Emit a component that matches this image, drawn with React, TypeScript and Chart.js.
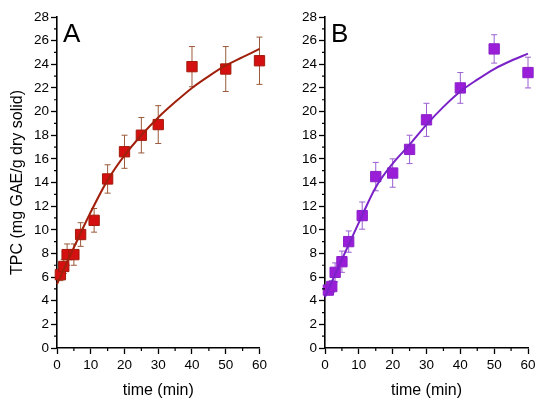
import { useEffect, useRef } from 'react'
import { Chart, registerables } from 'chart.js'

Chart.register(...registerables)

// sampling times (min)
const times = [1, 2, 3, 5, 7, 11, 15, 20, 25, 30, 40, 50, 60]

// panel A: measured TPC and SD
const tpcA = [6.2, 6.9, 7.9, 7.9, 9.6, 10.8, 14.3, 16.6, 18.0, 18.9, 23.8, 23.6, 24.3]
const errA = [0.5, 0.6, 0.9, 0.9, 1.0, 1.0, 1.2, 1.4, 1.5, 1.6, 1.7, 1.9, 2.0]

// panel B: measured TPC and SD
const tpcB = [4.9, 5.2, 6.4, 7.3, 9.0, 11.2, 14.5, 14.8, 16.8, 19.3, 22.0, 25.3, 23.3]
const errB = [0.4, 0.5, 0.8, 0.9, 0.9, 1.15, 1.2, 1.2, 1.2, 1.4, 1.3, 1.2, 1.3]

// fitted curves
const fitTimes = [0, 5, 10, 15, 20, 25, 30, 35, 40, 45, 50, 55, 60]
const fitA = [5.4, 8.5, 11.5, 14.2, 16.3, 18.0, 19.5, 20.8, 22.0, 23.0, 23.9, 24.6, 25.3]
const fitB = [4.3, 7.5, 10.6, 13.6, 15.6, 17.2, 18.9, 20.4, 21.7, 22.7, 23.6, 24.3, 24.9]

const xTicks = [0, 10, 20, 30, 40, 50, 60]
const xMinor = [5, 15, 25, 35, 45, 55]
const yTicks = [0, 2, 4, 6, 8, 10, 12, 14, 16, 18, 20, 22, 24, 26, 28]
const yMinor = [1, 3, 5, 7, 9, 11, 13, 15, 17, 19, 21, 23, 25, 27]

const FONT = "'Liberation Sans', Arial, sans-serif"

type PanelProps = {
  left: number
  width: number
  label: string
  values: number[]
  errors: number[]
  fit: number[]
  marker: string
  markerBorder: string
  lineColor: string
  barColor: string
  yTitle?: string
  yWidth: number
  padRight: number
}

function Panel(p: PanelProps) {
  const canvasRef = useRef<HTMLCanvasElement | null>(null)

  useEffect(() => {
    if (!canvasRef.current) return
    const ctx = canvasRef.current.getContext('2d')!

    const extras = {
      id: 'extras',
      beforeDatasetsDraw(chart: Chart) {
        const c = chart.ctx
        const xs = chart.scales.x
        const ys = chart.scales.y
        c.save()
        c.strokeStyle = p.barColor
        c.lineWidth = 1
        times.forEach((t, i) => {
          const px = xs.getPixelForValue(t)
          const top = ys.getPixelForValue(p.values[i] + p.errors[i])
          const bot = ys.getPixelForValue(p.values[i] - p.errors[i])
          c.beginPath()
          c.moveTo(px, top)
          c.lineTo(px, bot)
          c.moveTo(px - 3, top)
          c.lineTo(px + 3, top)
          c.moveTo(px - 3, bot)
          c.lineTo(px + 3, bot)
          c.stroke()
        })
        c.restore()
      },
      afterDraw(chart: Chart) {
        const c = chart.ctx
        const xs = chart.scales.x
        const ys = chart.scales.y
        const area = chart.chartArea
        c.save()
        c.strokeStyle = '#000'
        c.lineWidth = 1.2
        c.beginPath()
        xMinor.forEach((v) => {
          const px = xs.getPixelForValue(v)
          c.moveTo(px, area.bottom)
          c.lineTo(px, area.bottom + 3)
        })
        yMinor.forEach((v) => {
          const py = ys.getPixelForValue(v)
          c.moveTo(area.left, py)
          c.lineTo(area.left - 3, py)
        })
        c.stroke()
        c.fillStyle = '#000'
        c.font = `26px ${FONT}`
        c.textBaseline = 'alphabetic'
        c.fillText(p.label, area.left + 6, area.top + 25)
        c.restore()
      },
    }

    const chart = new Chart(ctx, {
      type: 'scatter',
      data: {
        datasets: [
          {
            data: fitTimes.map((t, i) => ({ x: t, y: p.fit[i] })),
            showLine: true,
            borderColor: p.lineColor,
            borderWidth: 2,
            pointRadius: 0,
            cubicInterpolationMode: 'monotone',
            clip: false,
          },
          {
            data: times.map((t, i) => ({ x: t, y: p.values[i] })),
            pointStyle: 'rect',
            pointRadius: 7.3,
            backgroundColor: p.marker,
            borderColor: p.markerBorder,
            borderWidth: 1,
            clip: false,
          },
        ],
      },
      options: {
        responsive: true,
        maintainAspectRatio: false,
        animation: false,
        layout: { padding: { left: 0, right: p.padRight, top: 17, bottom: 0 } },
        plugins: { legend: { display: false }, tooltip: { enabled: false } },
        scales: {
          x: {
            type: 'linear',
            min: 0,
            max: 60,
            afterBuildTicks: (s) => {
              s.ticks = xTicks.map((v) => ({ value: v }))
            },
            afterFit: (s) => {
              s.height = 63
            },
            grid: { drawOnChartArea: false, tickLength: 6, tickColor: '#000', tickWidth: 1.3 },
            border: { color: '#000', width: 1.6 },
            ticks: { color: '#000', font: { family: FONT, size: 13.5 }, padding: 3, maxRotation: 0 },
            title: {
              display: true,
              text: 'time (min)',
              color: '#000',
              font: { family: FONT, size: 16 },
              padding: { top: 0, bottom: 11 },
            },
          },
          y: {
            type: 'linear',
            min: 0,
            max: 28,
            afterBuildTicks: (s) => {
              s.ticks = yTicks.map((v) => ({ value: v }))
            },
            afterFit: (s) => {
              s.width = p.yWidth
            },
            grid: { drawOnChartArea: false, tickLength: 6, tickColor: '#000', tickWidth: 1.3 },
            border: { color: '#000', width: 1.6 },
            ticks: { color: '#000', font: { family: FONT, size: 13.5 }, padding: 2 },
            title: {
              display: !!p.yTitle,
              text: p.yTitle ?? '',
              color: '#000',
              font: { family: FONT, size: 16 },
              padding: { top: 8, bottom: 0 },
            },
          },
        },
      },
      plugins: [extras],
    })

    return () => chart.destroy()
  }, [])

  return (
    <div style={{ position: 'absolute', left: p.left, top: 0, width: p.width, height: 411 }}>
      <canvas ref={canvasRef} />
    </div>
  )
}

export default function App() {
  return (
    <div style={{ position: 'absolute', left: 0, top: 0, width: 550, height: 411, background: '#fff' }}>
      <Panel
        left={0}
        width={270}
        label="A"
        values={tpcA}
        errors={errA}
        fit={fitA}
        marker="#d41010"
        markerBorder="#a31a0c"
        lineColor="#a0200c"
        barColor="#9a5a3a"
        yTitle="TPC (mg GAE/g dry solid)"
        yWidth={57}
        padRight={10}
      />
      <Panel
        left={270}
        width={280}
        label="B"
        values={tpcB}
        errors={errB}
        fit={fitB}
        marker="#9a1ed8"
        markerBorder="#8a22c8"
        lineColor="#7a22c8"
        barColor="#9a60d0"
        yWidth={55}
        padRight={22}
      />
    </div>
  )
}
